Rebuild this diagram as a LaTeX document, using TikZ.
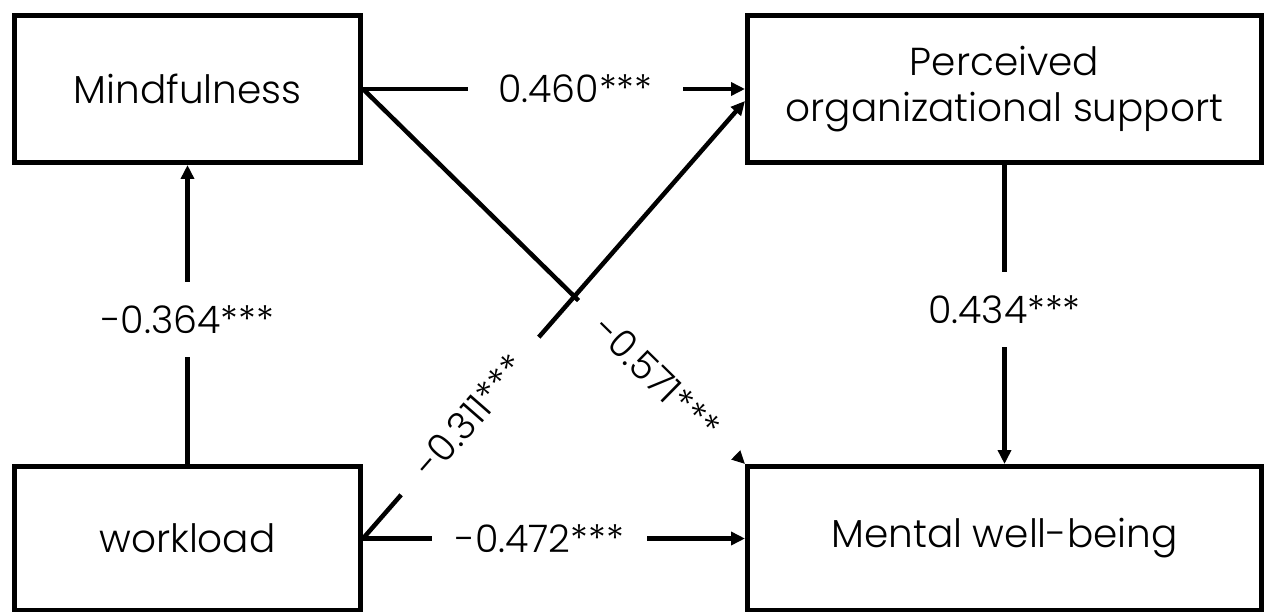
\documentclass[tikz,border=0pt]{standalone}
\usepackage{fontspec}
\IfFontExistsTF{Poppins Light}{\setmainfont{Poppins Light}}{\setmainfont{Poppins}}
\usetikzlibrary{arrows.meta}
\begin{document}
\begin{tikzpicture}[x=1pt,y=-1pt,
  box/.style={draw, line width=5pt, fill=white, align=center, inner sep=0pt,
              font=\fontsize{39}{50}\selectfont},
  conn/.style={line width=4.5pt, -{Triangle[length=14pt,width=13pt]}},
  lbl/.style={fill=white, inner sep=0pt, font=\fontsize{38}{40}\selectfont}]
\useasboundingbox (0,0) rectangle (1268,612);
\node[box, minimum width=346pt, minimum height=147pt] (mf)  at (187.5,89)   {Mindfulness};
\node[box, minimum width=514pt, minimum height=147pt] (pos) at (1004.5,89)  {\raisebox{-4pt}{Perceived}\\organizational support};
\node[box, minimum width=346pt, minimum height=144pt] (wl)  at (187.5,538.5) {workload};
\node[box, minimum width=514pt, minimum height=144pt] (mw)  at (1004.5,538.5) {Mental well-being};
% horizontal
\draw[conn] (mf.east) -- node[lbl, pos=0.556, minimum width=215pt] {0.460***} (pos.west);
\draw[conn] (wl.east) -- node[lbl, pos=0.4625, minimum width=215pt] {-0.472***} (mw.west);
% vertical
\draw[conn] (wl.north) -- node[lbl, pos=0.483, minimum height=75pt] {-0.364***} (mf.south);
\draw[conn] (pos.south) -- node[lbl, pos=0.483, minimum height=75pt] {0.434***} (mw.north);
% diagonals
\draw[conn] (mf.east) -- node[lbl, sloped, pos=0.77, minimum width=220pt] {-0.571***} (mw.north west);
\draw[conn] (wl.east) -- node[lbl, sloped, pos=0.28, minimum width=209pt] {-0.311***} ([yshift=-12pt]pos.west);
\end{tikzpicture}
\end{document}
